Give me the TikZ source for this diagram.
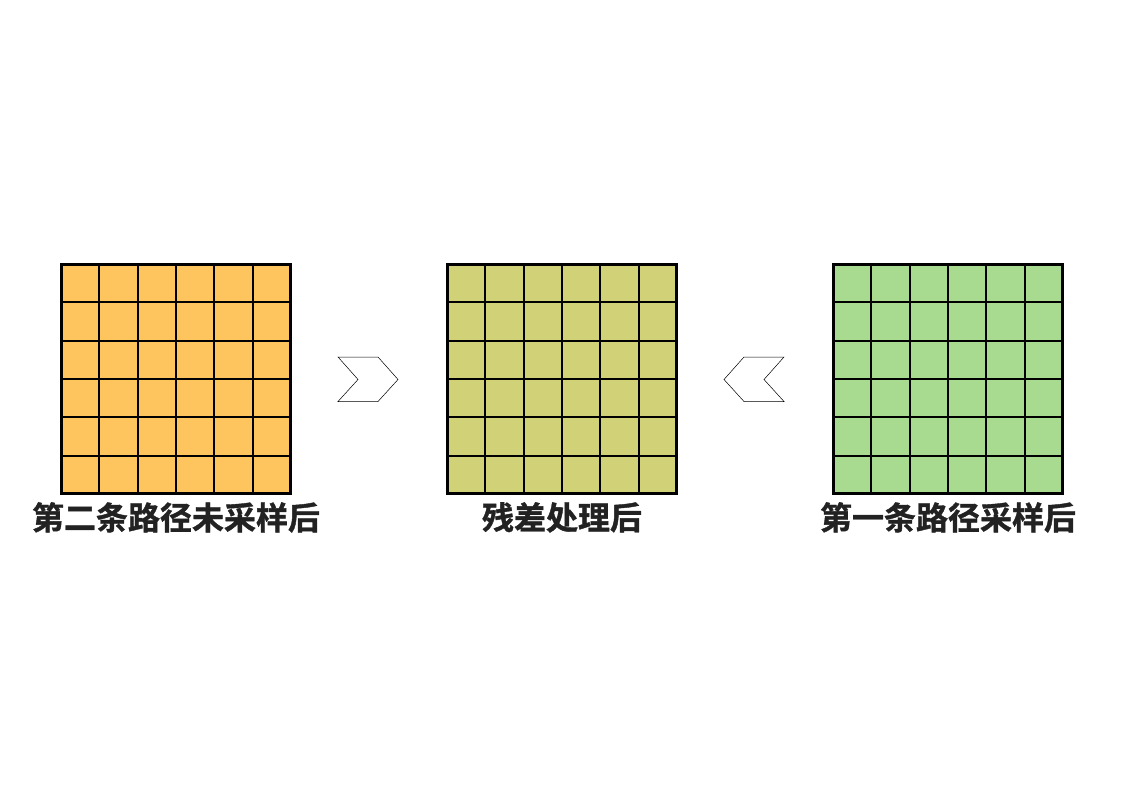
\documentclass[tikz,border=0pt]{standalone}
\usepackage{fontspec}
\newfontfamily\cjk{Noto Sans CJK SC}[BoldFont={Noto Sans CJK SC Bold}, BoldFeatures={FakeBold=1.2}]
\usetikzlibrary{positioning,calc}
\definecolor{gridorange}{RGB}{254,197,94}
\definecolor{gridolive}{RGB}{209,210,120}
\definecolor{gridgreen}{RGB}{168,218,144}
\definecolor{labelgray}{RGB}{34,34,34}
\tikzset{
  gridbox/.style={rectangle, draw=black, line width=2pt, minimum size=228pt, inner sep=0pt},
  gridline/.style={line width=2pt},
  gridlabel/.style={font=\cjk\bfseries\fontsize{32}{32}\selectfont, text=labelgray, inner sep=0pt},
  chevron/.style={draw=black, line width=0.5pt, fill=white}
}
\begin{document}
\begin{tikzpicture}[x=1pt, y=-1pt]
\useasboundingbox (0,0) rectangle (1123,794);
% Nodes
\node[gridbox, fill=gridorange] (second) at (176,379) {};
\node[gridbox, fill=gridolive] (residual) at (562,379) {};
\node[gridbox, fill=gridgreen] (first) at (948,379) {};
\node[gridlabel, below=8pt of second] (secondlabel) {第二条路径未采样后};
\node[gridlabel, below=8pt of residual] (residuallabel) {残差处理后};
\node[gridlabel, below=8pt of first] (firstlabel) {第一条路径采样后};
% Grid lines
\foreach \g in {second, residual, first} {
  \foreach \i in {1,...,5} {
    \draw[gridline] ($(\g.north west)!\i/6!(\g.north east)$) -- ($(\g.south west)!\i/6!(\g.south east)$);
    \draw[gridline] ($(\g.north west)!\i/6!(\g.south west)$) -- ($(\g.north east)!\i/6!(\g.south east)$);
  }
  \draw[gridline] (\g.north west) rectangle (\g.south east);
}
% Arrows
\coordinate (rightarrow) at (338,357);
\draw[chevron] (rightarrow) -- ++(40,0) -- ++(20,22.5) -- ++(-20,22) -- ++(-40,0) -- ++(20,-22) -- cycle;
\coordinate (leftarrow) at (784,357);
\draw[chevron] (leftarrow) -- ++(-40,0) -- ++(-20,22.5) -- ++(20,22) -- ++(40,0) -- ++(-20,-22) -- cycle;
\end{tikzpicture}
\end{document}
